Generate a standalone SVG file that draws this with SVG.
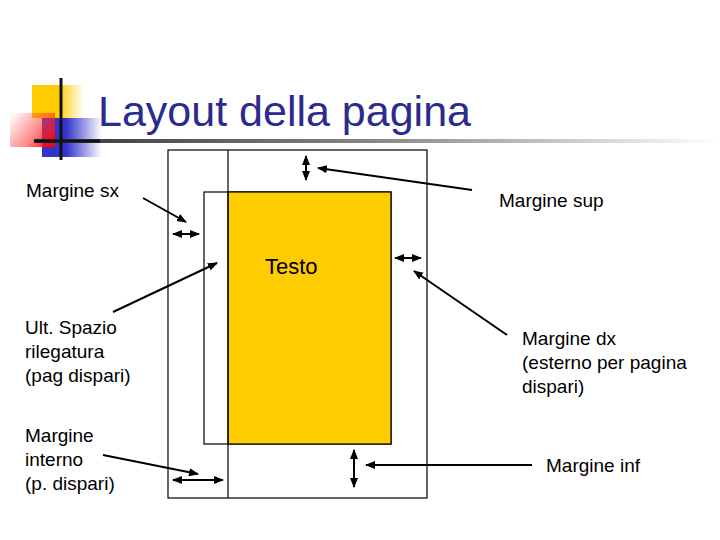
<svg xmlns="http://www.w3.org/2000/svg" width="720" height="540" viewBox="0 0 720 540">
<style>
.t{font-family:"Liberation Sans",Arial,sans-serif;font-size:19px;fill:#000}
.c{stroke:#000;stroke-width:2;fill:none}
.box{fill:none;stroke:#000;stroke-width:1.2}
</style>
<defs>
<marker id="ah" viewBox="0 0 10 10" refX="9" refY="5" markerWidth="5" markerHeight="5" orient="auto-start-reverse" markerUnits="strokeWidth">
<path d="M0,1 L10,5 L0,9 z" fill="#000"/>
</marker>
<linearGradient id="bar" x1="0" x2="1" y1="0" y2="0">
<stop offset="0" stop-color="#333"/>
<stop offset="0.5" stop-color="#888"/>
<stop offset="1" stop-color="#fff"/>
</linearGradient>
<linearGradient id="yel" x1="0" x2="1">
<stop offset="0" stop-color="#FFCC00"/>
<stop offset="0.5" stop-color="#FFCC00"/>
<stop offset="1" stop-color="#FFCC00" stop-opacity="0"/>
</linearGradient>
<linearGradient id="red" x1="0" x2="1" y1="0.2" y2="0.8">
<stop offset="0" stop-color="#FF3333" stop-opacity="0.05"/>
<stop offset="0.6" stop-color="#FF3333" stop-opacity="0.6"/>
<stop offset="1" stop-color="#FF0000"/>
</linearGradient>
<linearGradient id="blu" x1="0" x2="1">
<stop offset="0" stop-color="#3333CC"/>
<stop offset="0.4" stop-color="#3333CC"/>
<stop offset="1" stop-color="#3333CC" stop-opacity="0"/>
</linearGradient>
</defs>
<rect width="720" height="540" fill="#fff"/>
<g id="logo">
<rect x="32" y="85" width="52" height="33" fill="url(#yel)"/>
<rect x="42" y="118" width="60" height="39" fill="url(#blu)"/>
<rect x="10" y="113" width="45" height="34" fill="url(#red)"/>
<rect x="34" y="139" width="686" height="4" fill="url(#bar)"/>
<line x1="34" y1="141" x2="100" y2="141" stroke="#111" stroke-width="3"/>
<line x1="61" y1="78" x2="61" y2="160" stroke="#111" stroke-width="3"/>
</g>
<g id="title">
<text x="98" y="126" style="font-family:'Liberation Sans',Arial,sans-serif;font-size:43px;fill:#2B2B8F">Layout della pagina</text>
</g>
<g id="page">
<rect class="box" x="168" y="150" width="259" height="348"/>
<rect x="204" y="192" width="187" height="252" fill="#fff" stroke="#000" stroke-width="1.2"/>
<rect x="228" y="192" width="163" height="252" fill="#FFCC00" stroke="#000" stroke-width="1.2"/>
<line x1="228" y1="150" x2="228" y2="498" stroke="#000" stroke-width="1.2"/>
</g>
<g id="labels">
<text class="t" x="265" y="274" style="font-size:22px">Testo</text>
<text class="t" x="26" y="197">Margine sx</text>
<text class="t" x="499" y="207">Margine sup</text>
<text class="t" x="25" y="334">Ult. Spazio</text>
<text class="t" x="25" y="358">rilegatura</text>
<text class="t" x="25" y="382">(pag dispari)</text>
<text class="t" x="522" y="345">Margine dx</text>
<text class="t" x="522" y="369">(esterno per pagina</text>
<text class="t" x="522" y="393">dispari)</text>
<text class="t" x="25" y="442">Margine</text>
<text class="t" x="25" y="466">interno</text>
<text class="t" x="25" y="490">(p. dispari)</text>
<text class="t" x="546" y="472">Margine inf</text>
</g>
<g id="connectors">
<line class="c" x1="306" y1="156" x2="306" y2="180" marker-start="url(#ah)" marker-end="url(#ah)"/>
<line class="c" x1="472" y1="190" x2="318" y2="168" marker-end="url(#ah)"/>
<line class="c" x1="143" y1="198" x2="186" y2="222" marker-end="url(#ah)"/>
<line class="c" x1="173" y1="234" x2="199" y2="234" marker-start="url(#ah)" marker-end="url(#ah)"/>
<line class="c" x1="395" y1="258" x2="421" y2="258" marker-start="url(#ah)" marker-end="url(#ah)"/>
<line class="c" x1="113" y1="312" x2="217" y2="263" marker-end="url(#ah)"/>
<line class="c" x1="507" y1="335" x2="414" y2="271" marker-end="url(#ah)"/>
<line class="c" x1="103" y1="455" x2="198" y2="474" marker-end="url(#ah)"/>
<line class="c" x1="173" y1="480" x2="223" y2="480" marker-start="url(#ah)" marker-end="url(#ah)"/>
<line class="c" x1="354" y1="450" x2="354" y2="487" marker-start="url(#ah)" marker-end="url(#ah)"/>
<line class="c" x1="532" y1="465" x2="366" y2="465" marker-end="url(#ah)"/>
</g>
</svg>
